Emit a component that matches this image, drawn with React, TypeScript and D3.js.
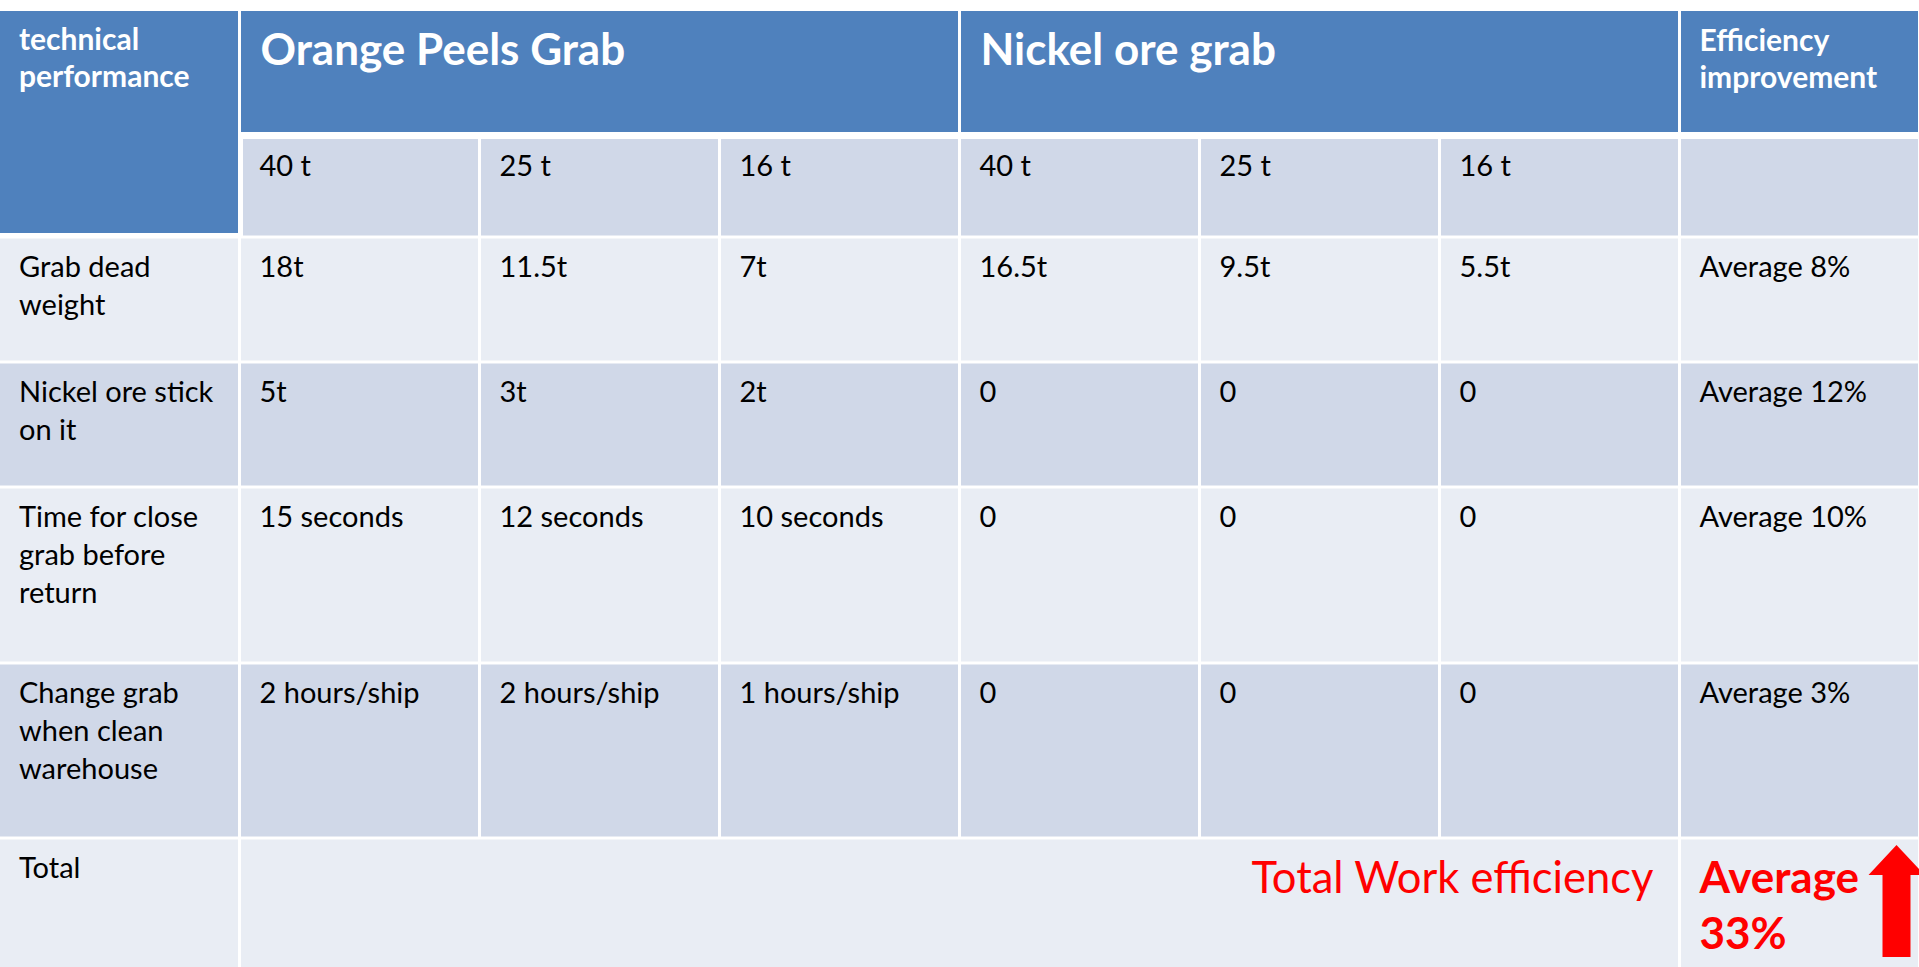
import { useRef, useEffect } from 'react';
import * as d3 from 'd3';

// table content
const cornerLabel = ['technical', 'performance'];
const groupNames = ['Orange Peels Grab', 'Nickel ore grab'];
const improvementLabel = ['Efficiency', 'improvement'];
const grabSizes = ['40 t', '25 t', '16 t'];
const metricNames = [
  ['Grab dead', 'weight'],
  ['Nickel ore stick', 'on it'],
  ['Time for close', 'grab before', 'return'],
  ['Change grab', 'when clean', 'warehouse'],
];
const orangeValues = [
  ['18t', '11.5t', '7t'],
  ['5t', '3t', '2t'],
  ['15 seconds', '12 seconds', '10 seconds'],
  ['2 hours/ship', '2 hours/ship', '1 hours/ship'],
];
const nickelValues = [
  ['16.5t', '9.5t', '5.5t'],
  ['0', '0', '0'],
  ['0', '0', '0'],
  ['0', '0', '0'],
];
const improvements = [8, 12, 10, 3];
const totalLabel = 'Total';
const totalNote = 'Total Work efficiency';
const totalImprovement = 33;

const W = 1919;
const H = 967;
const BLUE = '#4F81BD';
const DARK = '#D0D8E8';
const LIGHT = '#E9EDF4';
const RED = '#FF0000';
const FONT = 'Lato, "Open Sans", sans-serif';

export default function App() {
  const svgRef = useRef<SVGSVGElement | null>(null);

  function renderTable() {
    const svg = d3.select(svgRef.current);
    svg.selectAll('*').remove();
    svg.attr('width', W).attr('height', H);

    // column edges (line centres)
    const colW = [241, 240, 240, 240, 240, 240, 240, 240];
    const colEdges = [-1.5, ...Array.from(d3.cumsum(colW), (v) => v - 1.5)];
    // body row edges
    const bodyTop = 237;
    const rowH = [125, 125, 176, 175, 135];
    const rowEdges = [bodyTop, ...Array.from(d3.cumsum(rowH), (v) => v + bodyTop)];
    const g = 1.5;
    const tableTop = 11;
    const headBottom = 132;
    const subTop = 139;

    const cells: { x0: number; x1: number; y0: number; y1: number; fill: string }[] = [];
    const cell = (c0: number, c1: number, y0: number, y1: number, fill: string) =>
      cells.push({ x0: colEdges[c0] + g, x1: colEdges[c1] - g, y0, y1, fill });

    // header
    cells.push({ x0: 0, x1: colEdges[1] - g, y0: tableTop, y1: 233, fill: BLUE });
    cell(1, 4, tableTop, headBottom, BLUE);
    cell(4, 7, tableTop, headBottom, BLUE);
    cell(7, 8, tableTop, headBottom, BLUE);
    // sub header
    for (let c = 1; c < 8; c++) {
      cells.push({ x0: c === 1 ? colEdges[1] + 3.5 : colEdges[c] + g, x1: colEdges[c + 1] - g, y0: subTop, y1: bodyTop - g, fill: DARK });
    }
    // body rows
    metricNames.forEach((_, i) => {
      const fill = i % 2 === 0 ? LIGHT : DARK;
      for (let c = 0; c < 8; c++) cell(c, c + 1, rowEdges[i] + g, rowEdges[i + 1] - g, fill);
    });
    // total row
    const tr = metricNames.length;
    cell(0, 1, rowEdges[tr] + g, rowEdges[tr + 1], LIGHT);
    cell(1, 7, rowEdges[tr] + g, rowEdges[tr + 1], LIGHT);
    cell(7, 8, rowEdges[tr] + g, rowEdges[tr + 1], LIGHT);
    cells.forEach((d) => { if (d.x0 < 0) d.x0 = 0; if (d.x1 > W - 1) d.x1 = W - 1; });

    svg
      .append('g')
      .selectAll('rect')
      .data(cells)
      .join('rect')
      .attr('x', (d) => d.x0)
      .attr('y', (d) => d.y0)
      .attr('width', (d) => d.x1 - d.x0)
      .attr('height', (d) => d.y1 - d.y0)
      .attr('fill', (d) => d.fill);

    type T = { x: number; y: number; lines: string[]; size: number; bold: boolean; color: string; anchor?: string; lh?: number };
    const texts: T[] = [];
    const pad = 20;
    const body = 29;

    // header texts
    texts.push({ x: 19, y: 50, lines: cornerLabel, size: 30, bold: true, color: '#fff', lh: 37 });
    groupNames.forEach((name, i) => {
      texts.push({ x: colEdges[1 + i * 3] + 21, y: 65, lines: [name], size: 44, bold: true, color: '#fff' });
    });
    texts.push({ x: colEdges[7] + pad, y: 51, lines: improvementLabel, size: 30, bold: true, color: '#fff', lh: 37 });
    [...grabSizes, ...grabSizes].forEach((s, i) => {
      texts.push({ x: colEdges[1 + i] + pad, y: subTop + 37, lines: [s], size: body, bold: false, color: '#000' });
    });
    // body texts
    metricNames.forEach((m, i) => {
      const y = rowEdges[i] + 40;
      texts.push({ x: 19, y, lines: m, size: body, bold: false, color: '#000' });
      [...orangeValues[i], ...nickelValues[i]].forEach((v, j) => {
        texts.push({ x: colEdges[1 + j] + pad, y, lines: [v], size: body, bold: false, color: '#000' });
      });
      texts.push({ x: colEdges[7] + pad, y, lines: [`Average ${improvements[i]}%`], size: body, bold: false, color: '#000' });
    });
    // total row
    texts.push({ x: 19, y: rowEdges[tr] + 40, lines: [totalLabel], size: body, bold: false, color: '#000' });
    texts.push({ x: colEdges[7] - 26, y: rowEdges[tr] + 55, lines: [totalNote], size: 43.5, bold: false, color: RED, anchor: 'end' });

    const textSel = svg
      .append('g')
      .selectAll('text')
      .data(texts)
      .join('text')
      .attr('x', (d) => d.x)
      .attr('y', (d) => d.y)
      .attr('fill', (d) => d.color)
      .attr('font-family', FONT)
      .attr('font-size', (d) => d.size)
      .attr('font-weight', (d) => (d.bold ? 700 : 400))
      .attr('text-anchor', (d) => d.anchor || 'start');
    textSel
      .selectAll('tspan')
      .data((d) => d.lines.map((l, k) => ({ l, k, x: d.x, lh: d.lh || 38 })))
      .join('tspan')
      .attr('x', (d) => d.x)
      .attr('dy', (d) => (d.k === 0 ? 0 : d.lh))
      .text((d) => d.l);

    // Average 33% in bold red with arrow
    const avg = svg
      .append('text')
      .attr('x', colEdges[7] + pad)
      .attr('y', rowEdges[tr] + 55)
      .attr('fill', RED)
      .attr('font-family', FONT)
      .attr('font-size', 44)
      .attr('font-weight', 700);
    avg.append('tspan').attr('x', colEdges[7] + pad).text('Average');
    avg.append('tspan').attr('x', colEdges[7] + pad).attr('dy', 56).text(`${totalImprovement}%`);

    const cx = colEdges[8] - 23;
    const top = rowEdges[tr] + 7;
    const arrow = d3.path();
    arrow.moveTo(cx, top);
    arrow.lineTo(cx + 28, top + 30);
    arrow.lineTo(cx + 14, top + 30);
    arrow.lineTo(cx + 14, H - 10);
    arrow.lineTo(cx - 14, H - 10);
    arrow.lineTo(cx - 14, top + 30);
    arrow.lineTo(cx - 28, top + 30);
    arrow.closePath();
    svg.append('path').attr('d', arrow.toString()).attr('fill', RED);
  }

  useEffect(() => {
    renderTable();
  }, []);

  return (
    <div style={{ position: 'absolute', left: 0, top: 0 }}>
      <svg ref={svgRef} style={{ display: 'block' }} />
    </div>
  );
}
